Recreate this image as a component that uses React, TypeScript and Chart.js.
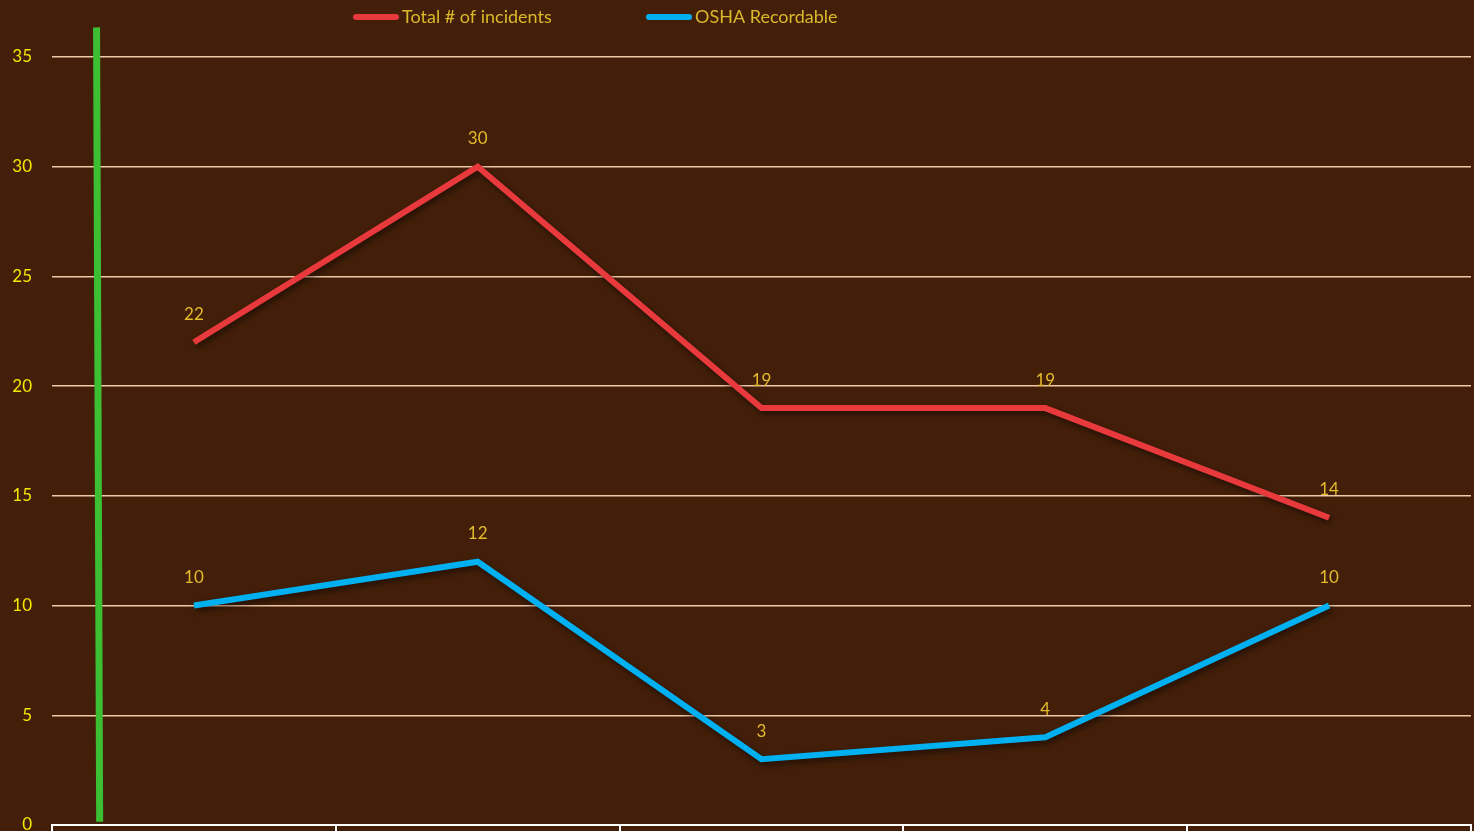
import React, { useEffect, useRef } from "react";
import { Chart, registerables } from "chart.js";

Chart.register(...registerables);

const categories = ["1", "2", "3", "4", "5"];
const totalIncidents = [22, 30, 19, 19, 14];
const oshaRecordable = [10, 12, 3, 4, 10];
const greenMarker = [
  { x: 0.157, y: 36.35 },
  { x: 0.168, y: 0.15 },
];
const seriesNames = ["Total # of incidents", "OSHA Recordable"];
const seriesColors = ["#e8393d", "#00b0f0"];
const yTicks = [0, 5, 10, 15, 20, 25, 30, 35];

const FONT = "Lato, 'Open Sans', sans-serif";

export default function App() {
  const ref = useRef<HTMLCanvasElement | null>(null);
  useEffect(() => {
    if (!ref.current) return;
    const shadowPlugin = {
      id: "shadow",
      beforeDatasetDraw(chart: any, args: any) {
        const ctx = chart.ctx;
        ctx.save();
        if (args.index < 2) {
          ctx.shadowColor = "rgba(0,0,0,0.55)";
          ctx.shadowBlur = 6;
          ctx.shadowOffsetX = 2;
          ctx.shadowOffsetY = 3;
        }
      },
      afterDatasetDraw(chart: any) {
        chart.ctx.restore();
      },
    };
    const labelsPlugin = {
      id: "valueLabels",
      afterDatasetsDraw(chart: any) {
        const ctx = chart.ctx;
        ctx.save();
        ctx.font = `17px ${FONT}`;
        ctx.fillStyle = "#e3bb2c";
        ctx.textAlign = "center";
        ctx.textBaseline = "middle";
        [0, 1].forEach((di) => {
          const meta = chart.getDatasetMeta(di);
          const data = chart.data.datasets[di].data as number[];
          meta.data.forEach((pt: any, i: number) => {
            ctx.fillText(String(data[i]), pt.x, pt.y - 28);
          });
        });
        ctx.restore();
      },
    };
    const legendPlugin = {
      id: "customLegend",
      afterDraw(chart: any) {
        const ctx = chart.ctx;
        ctx.save();
        ctx.font = `18px ${FONT}`;
        ctx.textBaseline = "middle";
        const starts = [353, 646];
        starts.forEach((sx, i) => {
          ctx.fillStyle = seriesColors[i];
          ctx.beginPath();
          (ctx as any).roundRect(sx, 14, 46, 6, 3);
          ctx.fill();
          ctx.fillStyle = "#dbb92a";
          ctx.textAlign = "left";
          ctx.fillText(seriesNames[i], sx + 49, 17);
        });
        ctx.restore();
      },
    };
    const chart = new Chart(ref.current, {
      type: "line",
      data: {
        labels: categories,
        datasets: [
          {
            label: seriesNames[0],
            data: totalIncidents,
            borderColor: seriesColors[0],
            backgroundColor: seriesColors[0],
            borderWidth: 6,
            pointRadius: 0,
            tension: 0,
          },
          {
            label: seriesNames[1],
            data: oshaRecordable,
            borderColor: seriesColors[1],
            backgroundColor: seriesColors[1],
            borderWidth: 6,
            pointRadius: 0,
            tension: 0,
          },
          {
            label: "marker",
            data: greenMarker as any,
            xAxisID: "x2",
            borderColor: "#3cbf32",
            borderWidth: 7,
            pointRadius: 0,
            clip: false as any,
          } as any,
        ],
      },
      options: {
        animation: false,
        responsive: true,
        maintainAspectRatio: false,
        layout: { padding: { left: 0, right: 3, top: 57, bottom: 0 } },
        plugins: {
          legend: { display: false },
          tooltip: { enabled: false },
        },
        scales: {
          x: {
            type: "category",
            offset: true,
            afterFit(scale: any) {
              scale.height = 6;
              scale.paddingLeft = 0;
              scale.paddingRight = 0;
            },
            grid: {
              offset: true,
              drawOnChartArea: false,
              drawTicks: true,
              tickLength: 6,
              color: "#ffffff",
              lineWidth: 2,
            },
            border: { display: true, color: "#ffffff", width: 2 },
            ticks: { display: false },
          },
          x2: {
            type: "linear",
            display: false,
            min: 0,
            max: 5,
          },
          y: {
            min: 0,
            max: 35,
            afterBuildTicks(scale: any) {
              scale.ticks = yTicks.map((v) => ({ value: v }));
            },
            afterFit(scale: any) {
              scale.width = 52;
              scale.paddingTop = 0;
              scale.paddingBottom = 0;
            },
            grid: {
              color: "#f2c9a8",
              lineWidth: 1.5,
              drawTicks: false,
            },
            border: { display: false },
            ticks: {
              color: "#f5e600",
              font: { size: 17, family: FONT },
              padding: 20,
            },
          },
        },
      },
      plugins: [shadowPlugin, labelsPlugin, legendPlugin],
    });
    return () => chart.destroy();
  }, []);
  return (
    <div
      style={{
        position: "fixed",
        left: 0,
        top: 0,
        width: "100vw",
        height: "100vh",
        background: "#431f09",
      }}
    >
      <canvas ref={ref} />
    </div>
  );
}
